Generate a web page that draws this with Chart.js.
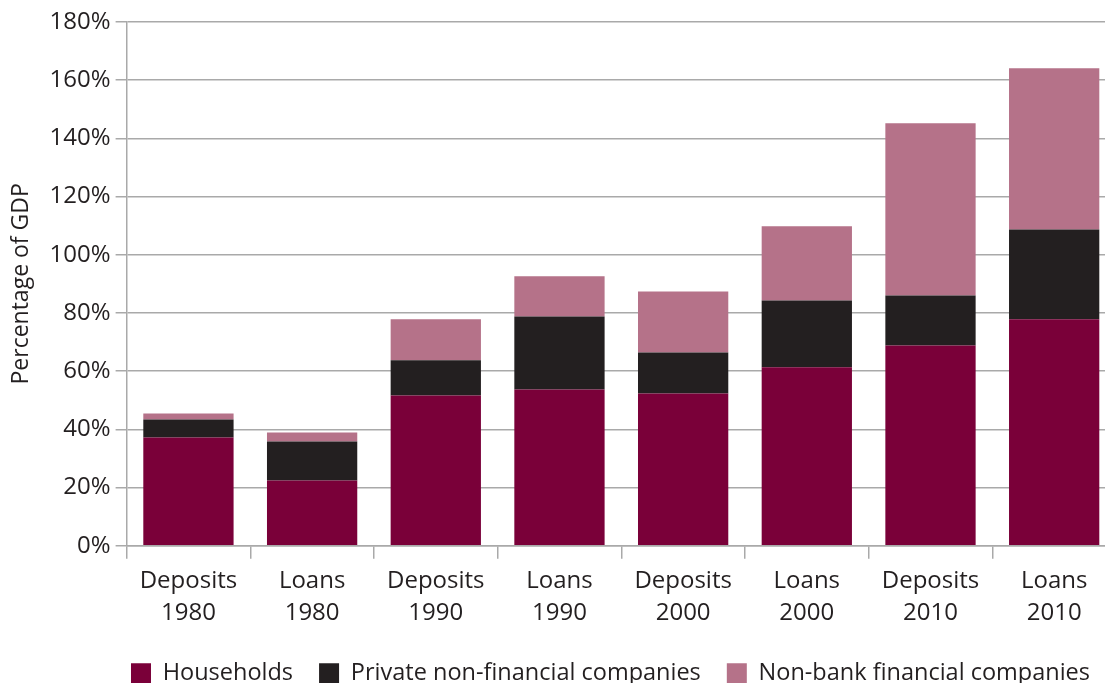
<!DOCTYPE html>
<html>
<head>
<meta charset="utf-8">
<title>Deposits and loans by sector</title>
<script src="https://cdn.jsdelivr.net/npm/chart.js@4/dist/chart.umd.min.js"></script>
<style>
  html, body { margin: 0; padding: 0; background: #fff; overflow: hidden; }
  #wrap { position: relative; width: 1116px; height: 695px; }
</style>
</head>
<body>
<div id="wrap"><canvas id="chart"></canvas></div>
<script>
"use strict"

// categories, two lines each
const categories = [
    ["Deposits", "1980"], ["Loans", "1980"],
    ["Deposits", "1990"], ["Loans", "1990"],
    ["Deposits", "2000"], ["Loans", "2000"],
    ["Deposits", "2010"], ["Loans", "2010"]
];

// % of GDP, stacked
const households = [37.2, 22.4, 51.6, 53.7, 52.3, 61.3, 68.8, 77.8];
const privateCompanies = [6.2, 13.4, 12.1, 25.1, 14.1, 23.0, 17.2, 30.9];
const nonBankCompanies = [2.0, 3.1, 14.1, 13.8, 21.0, 25.5, 59.2, 55.4];

const seriesNames = ["Households", "Private non-financial companies", "Non-bank financial companies"];

const yMax = 180;
const yStep = 20;

const textColor = "#231f20";
const gridColor = "#a9a9a9";
const fontFamily = "'Open Sans', 'Noto Sans', sans-serif";

const data = {
    labels: categories,
    datasets: [
        { label: seriesNames[0], data: households, backgroundColor: "#7a0039" },
        { label: seriesNames[1], data: privateCompanies, backgroundColor: "#231f20" },
        { label: seriesNames[2], data: nonBankCompanies, backgroundColor: "#b57289" }
    ]
};

const config = {
    type: "bar",
    data: data,
    options: {
        responsive: true,
        maintainAspectRatio: false,
        animation: false,
        datasets: {
            bar: { categoryPercentage: 1, barPercentage: 0.73, borderWidth: 0 }
        },
        layout: { padding: { top: 22, right: 0, left: 8, bottom: 0 } },
        plugins: {
            tooltip: { enabled: false },
            legend: {
                position: "bottom",
                align: "end",
                labels: {
                    color: textColor,
                    font: { family: fontFamily, size: 23.5 },
                    boxWidth: 20,
                    boxHeight: 20,
                    padding: 26
                }
            }
        },
        scales: {
            x: {
                stacked: true,
                border: { color: gridColor, width: 1.5 },
                grid: {
                    display: true,
                    drawOnChartArea: false,
                    offset: true,
                    color: gridColor,
                    lineWidth: 1.5,
                    tickLength: 13
                },
                ticks: {
                    color: textColor,
                    font: { family: fontFamily, size: 24, lineHeight: 1.35 },
                    maxRotation: 0,
                    padding: 6
                }
            },
            y: {
                stacked: true,
                min: 0,
                max: yMax,
                border: { color: gridColor, width: 1.5 },
                grid: { color: gridColor, lineWidth: 1.5, tickLength: 11 },
                ticks: {
                    stepSize: yStep,
                    color: textColor,
                    font: { family: fontFamily, size: 24 },
                    padding: 5,
                    callback: function (v) { return v + "%"; }
                },
                title: {
                    display: true,
                    text: "Percentage of GDP",
                    color: textColor,
                    font: { family: fontFamily, size: 23 },
                    padding: { top: 0, bottom: 9 }
                }
            }
        }
    }
};

const myChart = new Chart(document.getElementById("chart"), config);
</script>
</body>
</html>
